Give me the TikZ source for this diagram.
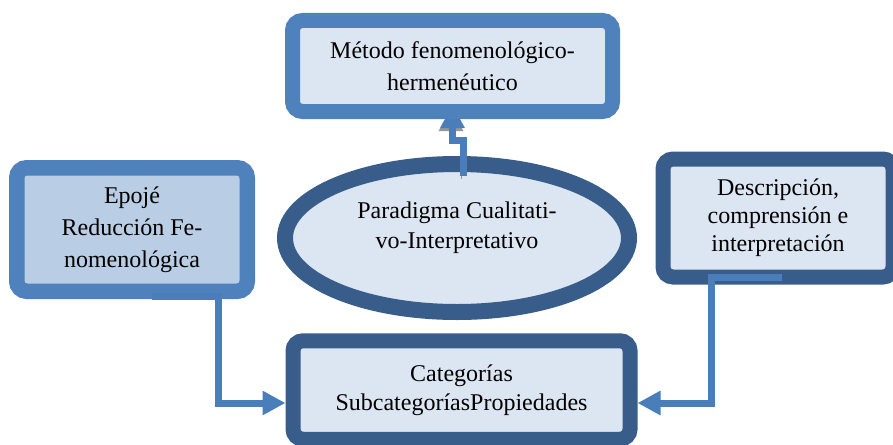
\documentclass[tikz,border=0pt]{standalone}
\usepackage{fontspec}
\setmainfont{Liberation Serif}
\usetikzlibrary{shapes.geometric,arrows.meta}
\pgfdeclarelayer{front}
\pgfsetlayers{main,front}
\definecolor{medblue}{RGB}{79,129,189}
\definecolor{darkblue}{RGB}{56,93,138}
\definecolor{lightfill}{RGB}{220,230,242}
\definecolor{leftfill}{RGB}{185,205,229}
\definecolor{connblue}{RGB}{74,126,187}
\definecolor{shadowgray}{RGB}{150,150,150}
\begin{document}
\begin{tikzpicture}[x=1pt,y=-1pt,
  box/.style={rectangle, rounded corners=10pt, line width=15pt, inner sep=0pt, outer sep=0pt, align=center},
  txt/.style={font=\fontsize{24}{#1}\selectfont},
  conn/.style={draw=connblue, line width=7pt, miter limit=10, -{Triangle[length=23pt,width=23pt]}}
]
\useasboundingbox (0,0) rectangle (893,444);
\begin{pgfonlayer}{front}
\node[box, draw=medblue, fill=lightfill, minimum width=320pt, minimum height=91pt, txt=32]
  (T) at (452.5,66) {Método fenomenológico-\\hermenéutico};
\end{pgfonlayer}
\node[box, draw=medblue, fill=leftfill, line width=15.5pt, minimum width=230.5pt, minimum height=123.5pt, txt=32]
  (L) at (132,229.5) {Epojé\\Reducción Fe-\\nomenológica};
\node[ellipse, draw=darkblue, fill=lightfill, line width=16pt, inner sep=0pt, outer sep=0pt, minimum width=344pt, minimum height=148pt]
  (E) at (457,238) {};
\node[txt=30, align=center, inner sep=0pt] (ET) at (457,228) {Paradigma Cualitati-\\vo-Interpretativo};
\node[box, draw=darkblue, fill=lightfill, minimum width=230pt, minimum height=118pt, txt=28]
  (R) at (778,218) {Descripción,\\comprensión e\\interpretación};
\node[box, draw=darkblue, fill=lightfill, minimum width=337pt, minimum height=98.5pt, txt=29]
  (B) at (461.5,390) {Categorías\\SubcategoríasPropiedades};
\draw[conn] ([xshift=20pt,yshift=-5pt]L.south) -- ++(66,0) |- ([xshift=-7.5pt,yshift=-13pt]B.west);
\draw[conn] ([xshift=4pt,yshift=-0.5pt]R.south) -- ++(-71,0) |- ([xshift=7.5pt,yshift=-13pt]B.east);
\draw[conn, preaction={draw=shadowgray, transform canvas={xshift=-1.5pt,yshift=-3pt}}]
  ([xshift=6pt,yshift=-12pt]E.north) -- ++(0,-36) -| ([yshift=6.5pt]T.south);
\end{tikzpicture}
\end{document}
